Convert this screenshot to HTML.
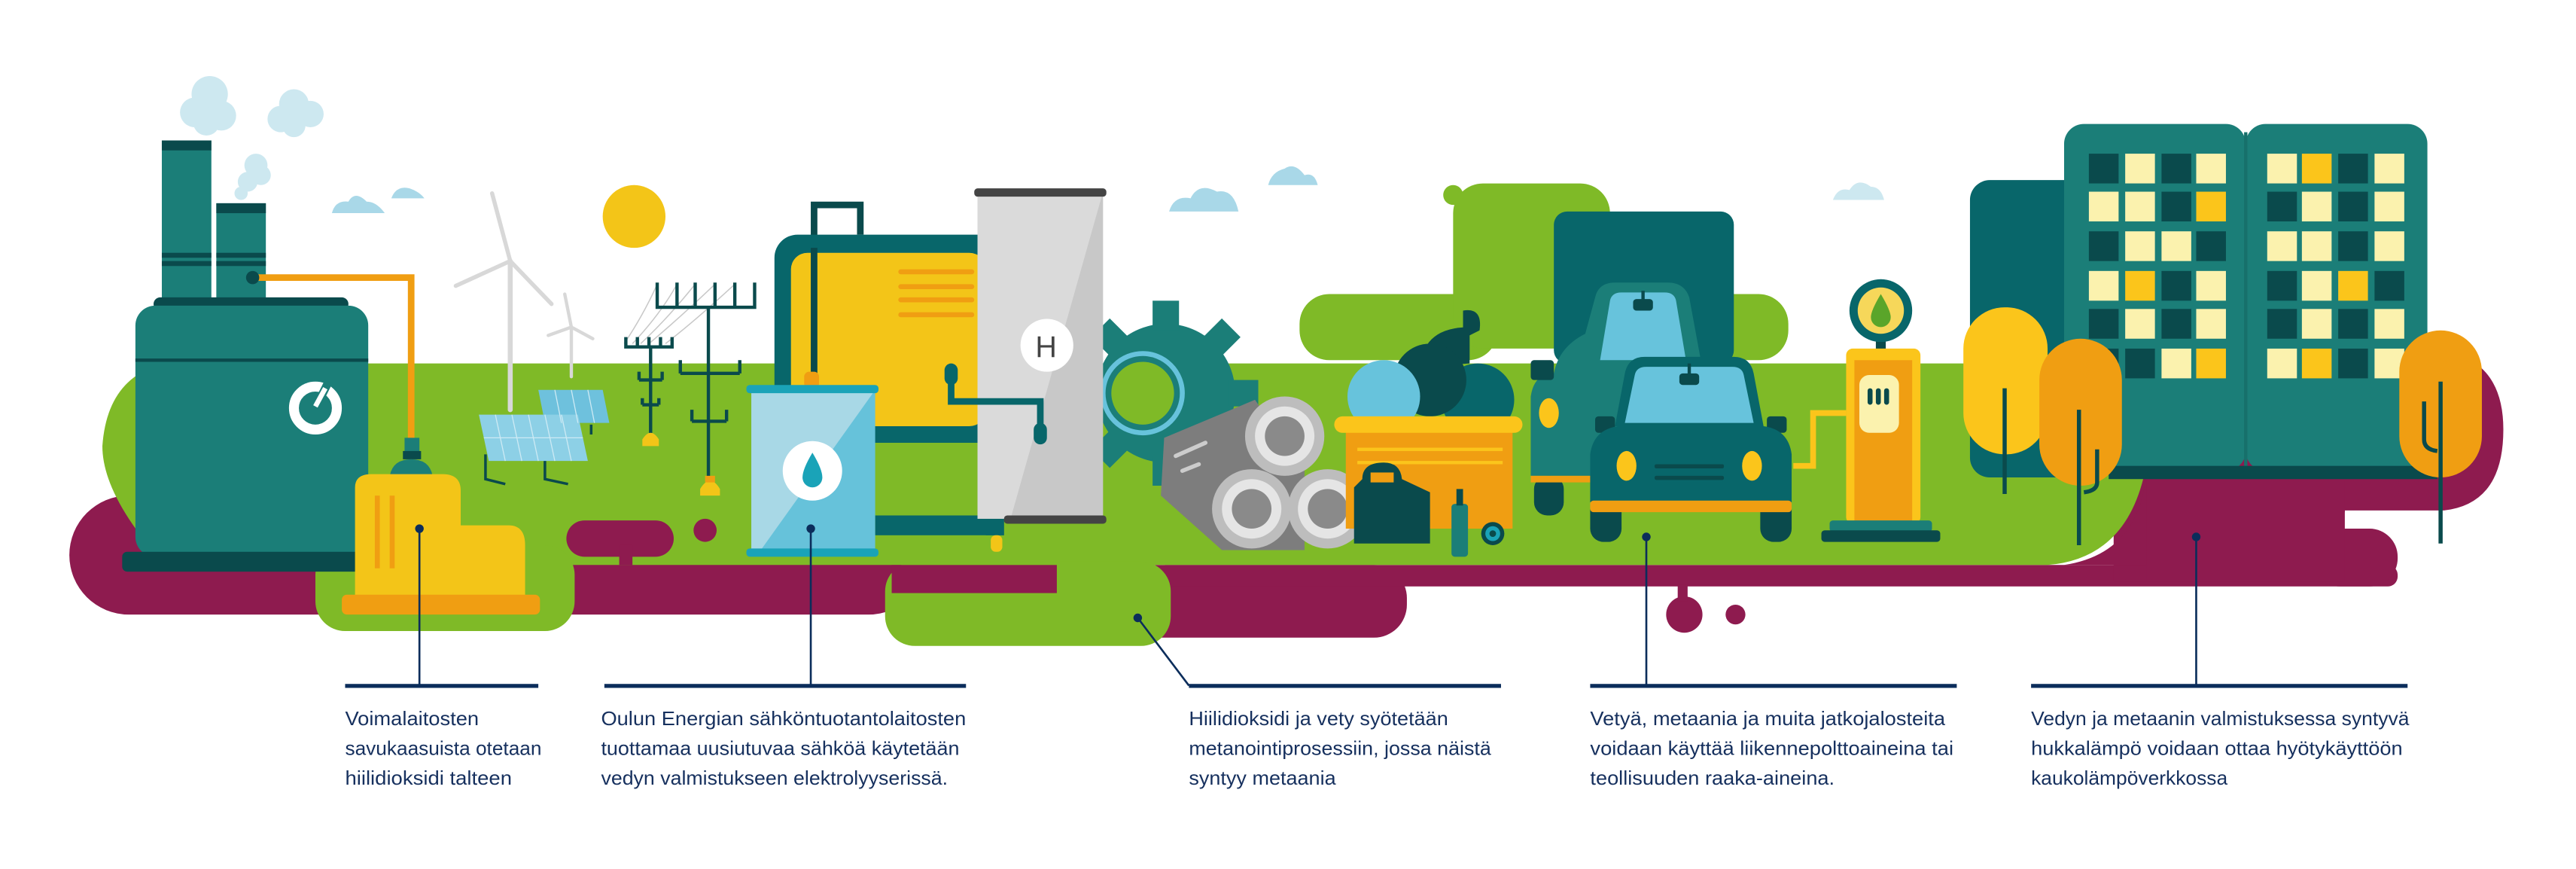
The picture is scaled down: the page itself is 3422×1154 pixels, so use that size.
<!DOCTYPE html>
<html><head><meta charset="utf-8"><style>
html,body{margin:0;padding:0;background:#fff;}
svg{display:block;}
text{font-family:"Liberation Sans",sans-serif;font-size:11.6px;fill:#16305e;}
</style></head><body>
<svg width="3422" height="1154" viewBox="0 0 1560 526" xmlns="http://www.w3.org/2000/svg">
<!-- clouds -->
<g fill="#cde8f0">
<circle cx="127" cy="57" r="11"/><circle cx="118" cy="68" r="9"/><circle cx="134" cy="70" r="9"/><circle cx="125" cy="74" r="8"/>
<circle cx="178" cy="63" r="9"/><circle cx="170" cy="72" r="8"/><circle cx="188" cy="69" r="8"/><circle cx="178" cy="76" r="7"/>
<circle cx="155" cy="100" r="7"/><circle cx="150" cy="110" r="6"/><circle cx="158" cy="106" r="6"/><circle cx="146" cy="117" r="4"/>
</g>
<g fill="#a9d8e8">
<path d="M201 129 q2-8 10-7 q4-7 11 0 q6 0 11 7z"/>
<path d="M237 120 q3-8 11-6 q6 2 9 6z"/>
<path d="M708 128 q3-10 13-8 q5-10 16-4 q10-2 13 12z"/>
<path d="M768 112 q2-8 10-10 q6-4 12 4 q6-2 8 6z"/>
</g>
<g fill="#cde8f0"><path d="M1110 121 q3-8 10-6 q5-8 13-2 q6 0 8 8z"/></g>
<!-- sun -->
<ellipse cx="384" cy="131" rx="19" ry="19" fill="#f3c518"/>
<!-- purple -->
<g fill="#8e1b4f">
<rect x="42" y="300" width="520" height="72" rx="36"/>
<rect x="637" y="342" width="215" height="44" rx="20"/>
<rect x="700" y="342" width="752" height="13" rx="6"/>
<rect x="1400" y="320" width="52" height="35" rx="17"/>
<path d="M1280 215 L1490 215 Q1516 225 1516 260 Q1516 305 1480 309 L1280 309 Z"/>
<rect x="1280" y="290" width="140" height="62"/>
<ellipse cx="1020" cy="372" rx="11" ry="11"/><rect x="1016" y="354" width="6" height="10"/>
<circle cx="1051" cy="372" r="6"/>
</g>
<rect x="1399" y="310" width="48" height="10" rx="4" fill="#fff"/>
<!-- green -->
<g fill="#7fba27">
<path d="M100 220 L1300 220 L1300 280 Q1290 338 1240 342 L100 342 Q62 300 62 270 Q65 228 100 220z"/>
<rect x="191" y="330" width="157" height="52" rx="18"/>
<rect x="536" y="340" width="173" height="51" rx="18"/>
<rect x="787" y="178" width="120" height="40" rx="18"/>
<rect x="880" y="111" width="95" height="100" rx="18"/>
<rect x="1000" y="178" width="83" height="40" rx="18"/>
<circle cx="880" cy="118" r="6"/>
</g>
<path d="M1300 285 Q1296 335 1250 342 L1300 342 Z" fill="#8e1b4f"/>
<rect x="1300" y="288" width="120" height="64" fill="#8e1b4f"/>
<rect x="343" y="315" width="65" height="22" rx="11" fill="#8e1b4f"/>
<rect x="375" y="330" width="8" height="12" fill="#8e1b4f"/>
<circle cx="427" cy="321" r="7" fill="#8e1b4f"/>
<rect x="540" y="342" width="100" height="17" fill="#8e1b4f"/>
<!-- power plant -->
<rect x="98" y="85" width="30" height="98" fill="#1b7e78"/><rect x="98" y="85" width="30" height="6" fill="#0a4a4c"/>
<rect x="98" y="153" width="30" height="3" fill="#0a4a4c"/><rect x="98" y="158" width="30" height="3" fill="#0a4a4c"/>
<rect x="131" y="123" width="30" height="60" fill="#1b7e78"/><rect x="131" y="123" width="30" height="6" fill="#0a4a4c"/>
<rect x="131" y="153" width="30" height="3" fill="#0a4a4c"/><rect x="131" y="158" width="30" height="3" fill="#0a4a4c"/>
<path d="M154 168 H249 V270" fill="none" stroke="#f09e12" stroke-width="4"/>
<circle cx="153" cy="168" r="4" fill="#0a4a4c"/>
<rect x="93" y="180" width="118" height="8" rx="4" fill="#0a4a4c"/>
<rect x="82" y="185" width="141" height="152" rx="12" fill="#1b7e78"/>
<rect x="82" y="217" width="141" height="2" fill="#0a4a4c"/>
<rect x="74" y="334" width="145" height="12" rx="3" fill="#0a4a4c"/>
<circle cx="191" cy="247" r="13" fill="none" stroke="#fff" stroke-width="6"/>
<path d="M191 247 L199 231" stroke="#1b7e78" stroke-width="5"/><path d="M191 246 L197 235" stroke="#fff" stroke-width="3"/>
<!-- yellow thing -->
<rect x="245" y="265" width="9" height="10" fill="#1b7e78"/><rect x="244" y="273" width="11" height="5" fill="#0a4a4c"/>
<path d="M236 288 Q238 278 249 278 Q260 278 262 288z" fill="#1b7e78"/>
<path d="M215 295 Q215 287 225 287 H268 Q279 287 279 297 V318 H308 Q318 318 318 330 V361 H215z" fill="#f3c518"/>
<rect x="227" y="300" width="3" height="44" fill="#f09e12"/><rect x="236" y="300" width="3" height="44" fill="#f09e12"/>
<rect x="207" y="360" width="120" height="12" rx="3" fill="#f09e12"/>
<!-- wind turbines -->
<g stroke="#d8d8d8" fill="none" stroke-linecap="round">
<path d="M309 158 V248" stroke-width="3"/>
<path d="M309 158 L298 117 M309 158 L276 173 M309 158 L334 184" stroke-width="2.5"/>
<path d="M346 198 V228" stroke-width="2"/>
<path d="M346 198 L342 178 M346 198 L332 203 M346 198 L359 205" stroke-width="2"/>
</g>
<!-- solar -->
<g stroke="#0a4a4c" stroke-width="1.6" fill="none"><path d="M340 257 V262 L350 265 M358 257 V263"/><path d="M294 275 V290 L306 293 M330 277 V290 L344 293"/></g>
<path d="M326 236 L365 236 L369 256 L330 256z" fill="#6ec1dd"/>
<path d="M290 251 L350 251 L356 279 L296 279z" fill="#8dd0e6"/>
<g stroke="#cdeaf4" stroke-width="0.6"><path d="M300 251 L306 279 M310 251 L316 279 M320 251 L326 279 M330 251 L336 279 M340 251 L346 279 M293 265 L353 265"/><path d="M336 236 L340 256 M346 236 L350 256 M356 236 L360 256"/></g>
<!-- pylons -->
<g stroke="#c8c8c8" stroke-width="0.7" fill="none">
<path d="M378 208 Q390 190 398 172 M383 208 Q400 190 410 172 M388 208 Q405 192 421 172 M393 208 Q412 192 433 172 M403 208 Q420 195 445 172"/>
</g>
<g stroke="#0a4a4c" stroke-width="2" fill="none">
<path d="M429 186 V295 M397 186 H458 M398 171 V186 M410 171 V186 M421 171 V186 M433 171 V186 M445 171 V186 M457 171 V186"/>
<path d="M412 226 H448 M412 218 V226 M448 218 V226 M419 255 H440 M419 248 V255 M440 248 V255"/>
<path d="M394 210 V265 M378 210 H408 M379 204 V210 M386 204 V210 M393 204 V210 M400 204 V210 M407 204 V210"/>
<path d="M387 230 H401 M387 225 V230 M401 225 V230 M389 245 H399 M389 241 V245 M399 241 V245"/>
</g>
<path d="M389 266 Q394 258 399 266 V270 H389z" fill="#f3c518"/>
<path d="M424 296 Q430 286 436 296 V300 H424z" fill="#f3c518"/><rect x="427" y="288" width="6" height="4" fill="#f09e12"/>
<!-- gear (behind) -->
<g transform="translate(706 238)" fill="#1b7e78">
<circle r="42"/>
<g id="t"><rect x="-8" y="-56" width="16" height="18"/></g>
<use href="#t" transform="rotate(45)"/><use href="#t" transform="rotate(90)"/><use href="#t" transform="rotate(135)"/><use href="#t" transform="rotate(180)"/><use href="#t" transform="rotate(225)"/><use href="#t" transform="rotate(270)"/><use href="#t" transform="rotate(315)"/>
</g>
<circle cx="692" cy="238" r="24" fill="none" stroke="#67c3dc" stroke-width="3"/>
<circle cx="692" cy="238" r="19" fill="#7fba27"/>
<!-- electrolyser -->
<path d="M493 225 V124 H521 V142" fill="none" stroke="#0a4a4c" stroke-width="4"/>
<rect x="469" y="142" width="139" height="126" rx="14" fill="#08666a"/>
<rect x="479" y="153" width="118" height="105" rx="10" fill="#f3c518"/>
<path d="M493 150 V230" stroke="#0a4a4c" stroke-width="4"/>
<g fill="#f09e12"><rect x="544" y="163" width="46" height="3" rx="1.5"/><rect x="544" y="172" width="46" height="3" rx="1.5"/><rect x="544" y="180" width="46" height="3" rx="1.5"/><rect x="544" y="189" width="46" height="3" rx="1.5"/></g>
<rect x="530" y="258" width="78" height="10" fill="#08666a"/>
<rect x="530" y="312" width="78" height="12" fill="#08666a"/>
<rect x="597" y="142" width="11" height="182" fill="#08666a"/>
<rect x="600" y="324" width="7" height="10" rx="3" fill="#f3c518"/>
<!-- H tank -->
<rect x="592" y="116" width="76" height="198" fill="#c8c8c8"/>
<path d="M592 116 H668 L612 314 H592z" fill="#dadada"/>
<rect x="590" y="114" width="80" height="5" rx="2" fill="#444"/>
<rect x="608" y="312" width="62" height="5" rx="2" fill="#444"/>
<ellipse cx="634" cy="209" rx="16" ry="16" fill="#fff"/>
<text x="627" y="216" style="font-size:18px;fill:#444">H</text>
<path d="M576 225 V243 H630 V262" fill="none" stroke="#08666a" stroke-width="4"/>
<rect x="572" y="220" width="8" height="13" rx="4" fill="#08666a"/><rect x="626" y="256" width="8" height="13" rx="4" fill="#08666a"/>
<!-- water tank -->
<rect x="487" y="225" width="9" height="10" rx="3" fill="#f09e12"/>
<rect x="455" y="236" width="75" height="98" fill="#66c2da"/>
<path d="M455 236 H530 L460 334 H455z" fill="#a8d8e6"/>
<rect x="452" y="233" width="80" height="5" rx="2" fill="#1aa3b8"/>
<rect x="452" y="332" width="80" height="5" rx="2" fill="#1aa3b8"/>
<circle cx="492" cy="285" r="18" fill="#fff"/>
<path d="M492 274 Q486 284 486 289 A6 6 0 0 0 498 289 Q498 284 492 274z" fill="#1aa3b8"/>
<!-- rolls -->
<path d="M705 265 L760 242 L790 285 L790 333 L740 333 L703 300z" fill="#7d7d7d"/>
<path d="M712 276 L730 268 M716 285 L726 281" stroke="#ccc" stroke-width="2.5" stroke-linecap="round"/>
<g><circle cx="778" cy="264" r="24" fill="#bdbdbd"/><circle cx="778" cy="264" r="18" fill="#e5e5e5"/><circle cx="778" cy="264" r="12" fill="#8a8a8a"/></g>
<g><circle cx="758" cy="308" r="24" fill="#bdbdbd"/><circle cx="758" cy="308" r="18" fill="#e5e5e5"/><circle cx="758" cy="308" r="12" fill="#8a8a8a"/></g>
<g><circle cx="804" cy="308" r="24" fill="#bdbdbd"/><circle cx="804" cy="308" r="18" fill="#e5e5e5"/><circle cx="804" cy="308" r="12" fill="#8a8a8a"/></g>
<!-- container -->
<path d="M860 222 Q862 198 890 198 V220z" fill="#0a4a4c"/>
<path d="M886 188 Q898 186 896 200 L886 205z" fill="#0a4a4c"/>
<circle cx="895" cy="242" r="22" fill="#08666a"/>
<circle cx="866" cy="230" r="22" fill="#0a4a4c"/>
<ellipse cx="838" cy="240" rx="22" ry="22" fill="#67c3dc"/>
<rect x="815" y="260" width="101" height="60" fill="#f09e12"/>
<rect x="808" y="252" width="114" height="10" rx="5" fill="#fbc51b"/>
<rect x="822" y="271" width="88" height="2" fill="#fbc51b"/><rect x="822" y="279" width="88" height="2" fill="#fbc51b"/>
<path d="M825 290 Q825 280 838 280 Q848 280 849 290 L866 298 V329 H820 V295z" fill="#0a4a4c"/>
<rect x="830" y="286" width="14" height="6" fill="#f09e12"/>
<rect x="879" y="305" width="10" height="32" rx="2" fill="#1b7e78"/><rect x="882" y="296" width="4" height="10" fill="#0a4a4c"/>
<circle cx="904" cy="323" r="7" fill="#0a4a4c"/><circle cx="904" cy="323" r="4.5" fill="#1aa3b8"/><circle cx="904" cy="323" r="2" fill="#0a4a4c"/>
<!-- truck -->
<rect x="941" y="128" width="109" height="92" rx="8" fill="#08666a"/>
<rect x="929" y="288" width="18" height="24" rx="8" fill="#0a4a4c"/>
<path d="M941 226 Q944 210 960 202 L966 180 Q968 171 978 171 H1010 Q1020 171 1023 180 L1030 218 L1041 220 V288 H927 V240 Q929 226 941 226z" fill="#1b7e78"/>
<path d="M969 218 L975 182 Q976 177 982 177 H1008 Q1014 177 1015 182 L1021 218z" fill="#67c3dc"/>
<rect x="989" y="181" width="12" height="7" rx="2" fill="#0a4a4c"/><rect x="994" y="176" width="2" height="6" fill="#0a4a4c"/>
<rect x="927" y="218" width="14" height="12" rx="2" fill="#0a4a4c"/>
<ellipse cx="938" cy="250" rx="6" ry="9" fill="#fbc51b"/>
<rect x="927" y="288" width="40" height="4" fill="#f09e12"/>
<!-- car -->
<rect x="963" y="300" width="19" height="28" rx="8" fill="#0a4a4c"/><rect x="1066" y="300" width="19" height="28" rx="8" fill="#0a4a4c"/>
<path d="M978 258 L984 226 Q986 216 996 216 H1050 Q1060 216 1062 226 L1068 258z" fill="#08666a"/>
<path d="M984 256 L990 227 Q991 222 997 222 H1049 Q1055 222 1056 227 L1062 256z" fill="#67c3dc"/>
<rect x="1017" y="226" width="12" height="7" rx="2" fill="#0a4a4c"/><rect x="1022" y="220" width="2" height="7" fill="#0a4a4c"/>
<rect x="966" y="252" width="12" height="10" rx="2" fill="#0a4a4c"/><rect x="1070" y="252" width="12" height="10" rx="2" fill="#0a4a4c"/>
<path d="M963 275 Q965 260 980 258 H1068 Q1083 260 1085 275 V304 H963z" fill="#08666a"/>
<rect x="963" y="303" width="122" height="7" rx="2" fill="#f09e12"/>
<ellipse cx="985" cy="282" rx="6" ry="9" fill="#fbc51b"/><ellipse cx="1061" cy="282" rx="6" ry="9" fill="#fbc51b"/>
<rect x="1002" y="281" width="42" height="2.5" rx="1" fill="#0a4a4c"/><rect x="1002" y="288" width="42" height="2.5" rx="1" fill="#0a4a4c"/>
<!-- pump -->
<path d="M1118 250 H1098 V282 H1086" fill="none" stroke="#fbc51b" stroke-width="3.5"/>
<rect x="1136" y="203" width="6" height="10" fill="#0a4a4c"/>
<circle cx="1139" cy="188" r="19" fill="#08666a"/><circle cx="1139" cy="188" r="14" fill="#f6d75a"/>
<path d="M1139 178 Q1133 188 1133 192 A6 6 0 0 0 1145 192 Q1145 188 1139 178z" fill="#5aa52a"/>
<rect x="1118" y="211" width="45" height="106" rx="4" fill="#fbc51b"/>
<rect x="1123" y="218" width="35" height="99" fill="#f09e12"/>
<rect x="1126" y="227" width="24" height="35" rx="6" fill="#fbf2ae"/>
<rect x="1131" y="235" width="3" height="10" rx="1.5" fill="#0a4a4c"/><rect x="1136" y="235" width="3" height="10" rx="1.5" fill="#0a4a4c"/><rect x="1141" y="235" width="3" height="10" rx="1.5" fill="#0a4a4c"/>
<rect x="1108" y="315" width="62" height="7" rx="2" fill="#1b7e78"/>
<rect x="1103" y="321" width="72" height="7" rx="2" fill="#0a4a4c"/>
<!-- buildings -->
<rect x="1193" y="109" width="75" height="180" rx="12" fill="#08666a"/>
<rect x="1250" y="75" width="110" height="210" rx="12" fill="#1b7e78"/>
<rect x="1360" y="75" width="110" height="210" rx="12" fill="#1b7e78"/>
<rect x="1359" y="80" width="2" height="205" fill="#17706b"/>
<rect x="1277" y="282" width="199" height="8" fill="#0a4a4c"/>
<g>
<rect x="1265" y="93" width="18" height="18" fill="#0a4a4c"/><rect x="1287" y="93" width="18" height="18" fill="#fbf2ae"/><rect x="1309" y="93" width="18" height="18" fill="#0a4a4c"/><rect x="1330" y="93" width="18" height="18" fill="#fbf2ae"/>
<rect x="1265" y="116" width="18" height="18" fill="#fbf2ae"/><rect x="1287" y="116" width="18" height="18" fill="#fbf2ae"/><rect x="1309" y="116" width="18" height="18" fill="#0a4a4c"/><rect x="1330" y="116" width="18" height="18" fill="#fbc51b"/>
<rect x="1265" y="140" width="18" height="18" fill="#0a4a4c"/><rect x="1287" y="140" width="18" height="18" fill="#fbf2ae"/><rect x="1309" y="140" width="18" height="18" fill="#fbf2ae"/><rect x="1330" y="140" width="18" height="18" fill="#0a4a4c"/>
<rect x="1265" y="164" width="18" height="18" fill="#fbf2ae"/><rect x="1287" y="164" width="18" height="18" fill="#fbc51b"/><rect x="1309" y="164" width="18" height="18" fill="#0a4a4c"/><rect x="1330" y="164" width="18" height="18" fill="#fbf2ae"/>
<rect x="1265" y="187" width="18" height="18" fill="#0a4a4c"/><rect x="1287" y="187" width="18" height="18" fill="#fbf2ae"/><rect x="1309" y="187" width="18" height="18" fill="#0a4a4c"/><rect x="1330" y="187" width="18" height="18" fill="#fbf2ae"/>
<rect x="1265" y="211" width="18" height="18" fill="#0a4a4c"/><rect x="1287" y="211" width="18" height="18" fill="#0a4a4c"/><rect x="1309" y="211" width="18" height="18" fill="#fbf2ae"/><rect x="1330" y="211" width="18" height="18" fill="#fbc51b"/>
<rect x="1373" y="93" width="18" height="18" fill="#fbf2ae"/><rect x="1394" y="93" width="18" height="18" fill="#fbc51b"/><rect x="1416" y="93" width="18" height="18" fill="#0a4a4c"/><rect x="1438" y="93" width="18" height="18" fill="#fbf2ae"/>
<rect x="1373" y="116" width="18" height="18" fill="#0a4a4c"/><rect x="1394" y="116" width="18" height="18" fill="#fbf2ae"/><rect x="1416" y="116" width="18" height="18" fill="#0a4a4c"/><rect x="1438" y="116" width="18" height="18" fill="#fbf2ae"/>
<rect x="1373" y="140" width="18" height="18" fill="#fbf2ae"/><rect x="1394" y="140" width="18" height="18" fill="#fbf2ae"/><rect x="1416" y="140" width="18" height="18" fill="#0a4a4c"/><rect x="1438" y="140" width="18" height="18" fill="#fbf2ae"/>
<rect x="1373" y="164" width="18" height="18" fill="#0a4a4c"/><rect x="1394" y="164" width="18" height="18" fill="#fbf2ae"/><rect x="1416" y="164" width="18" height="18" fill="#fbc51b"/><rect x="1438" y="164" width="18" height="18" fill="#0a4a4c"/>
<rect x="1373" y="187" width="18" height="18" fill="#0a4a4c"/><rect x="1394" y="187" width="18" height="18" fill="#fbf2ae"/><rect x="1416" y="187" width="18" height="18" fill="#0a4a4c"/><rect x="1438" y="187" width="18" height="18" fill="#fbf2ae"/>
<rect x="1373" y="211" width="18" height="18" fill="#fbf2ae"/><rect x="1394" y="211" width="18" height="18" fill="#fbc51b"/><rect x="1416" y="211" width="18" height="18" fill="#0a4a4c"/><rect x="1438" y="211" width="18" height="18" fill="#fbf2ae"/>
</g>
<!-- trees -->
<rect x="1189" y="186" width="51" height="89" rx="25" fill="#fbc51b"/>
<path d="M1214 235 V299" stroke="#0a4a4c" stroke-width="2.5"/>
<rect x="1235" y="205" width="50" height="89" rx="25" fill="#f09e12"/>
<path d="M1259 248 V330 M1270 272 V292 Q1270 297 1262 298" fill="none" stroke="#0a4a4c" stroke-width="2.5"/>
<rect x="1453" y="200" width="50" height="89" rx="25" fill="#f09e12"/>
<path d="M1478 231 V329 M1468 243 V266 Q1468 272 1476 273" fill="none" stroke="#0a4a4c" stroke-width="2.5"/>
<!-- callouts -->
<g stroke="#0b2d5b" stroke-width="1.2" fill="none">
<path d="M254 320 V415 M491 320 V415 M689 374 L720 415 M997 325 V415 M1330 325 V415"/>
</g>
<g fill="#0b2d5b">
<circle cx="254" cy="320" r="2.6"/><circle cx="491" cy="320" r="2.6"/><circle cx="689" cy="374" r="2.6"/><circle cx="997" cy="325" r="2.6"/><circle cx="1330" cy="325" r="2.6"/>
<rect x="209" y="414" width="117" height="2.4"/>
<rect x="366" y="414" width="219" height="2.4"/>
<rect x="720" y="414" width="189" height="2.4"/>
<rect x="963" y="414" width="222" height="2.4"/>
<rect x="1230" y="414" width="228" height="2.4"/>
</g>
<g>
<text x="209" y="439" textLength="81" lengthAdjust="spacingAndGlyphs">Voimalaitosten</text>
<text x="209" y="457" textLength="119" lengthAdjust="spacingAndGlyphs">savukaasuista otetaan</text>
<text x="209" y="475" textLength="101" lengthAdjust="spacingAndGlyphs">hiilidioksidi talteen</text>
<text x="364" y="439" textLength="221" lengthAdjust="spacingAndGlyphs">Oulun Energian sähköntuotantolaitosten</text>
<text x="364" y="457" textLength="217" lengthAdjust="spacingAndGlyphs">tuottamaa uusiutuvaa sähköä käytetään</text>
<text x="364" y="475" textLength="210" lengthAdjust="spacingAndGlyphs">vedyn valmistukseen elektrolyyserissä.</text>
<text x="720" y="439" textLength="157" lengthAdjust="spacingAndGlyphs">Hiilidioksidi ja vety syötetään</text>
<text x="720" y="457" textLength="183" lengthAdjust="spacingAndGlyphs">metanointiprosessiin, jossa näistä</text>
<text x="720" y="475" textLength="89" lengthAdjust="spacingAndGlyphs">syntyy metaania</text>
<text x="963" y="439" textLength="215" lengthAdjust="spacingAndGlyphs">Vetyä, metaania ja muita jatkojalosteita</text>
<text x="963" y="457" textLength="220" lengthAdjust="spacingAndGlyphs">voidaan käyttää liikennepolttoaineina tai</text>
<text x="963" y="475" textLength="148" lengthAdjust="spacingAndGlyphs">teollisuuden raaka-aineina.</text>
<text x="1230" y="439" textLength="229" lengthAdjust="spacingAndGlyphs">Vedyn ja metaanin valmistuksessa syntyvä</text>
<text x="1230" y="457" textLength="225" lengthAdjust="spacingAndGlyphs">hukkalämpö voidaan ottaa hyötykäyttöön</text>
<text x="1230" y="475" textLength="119" lengthAdjust="spacingAndGlyphs">kaukolämpöverkkossa</text>
</g>
</svg>
</body></html>
